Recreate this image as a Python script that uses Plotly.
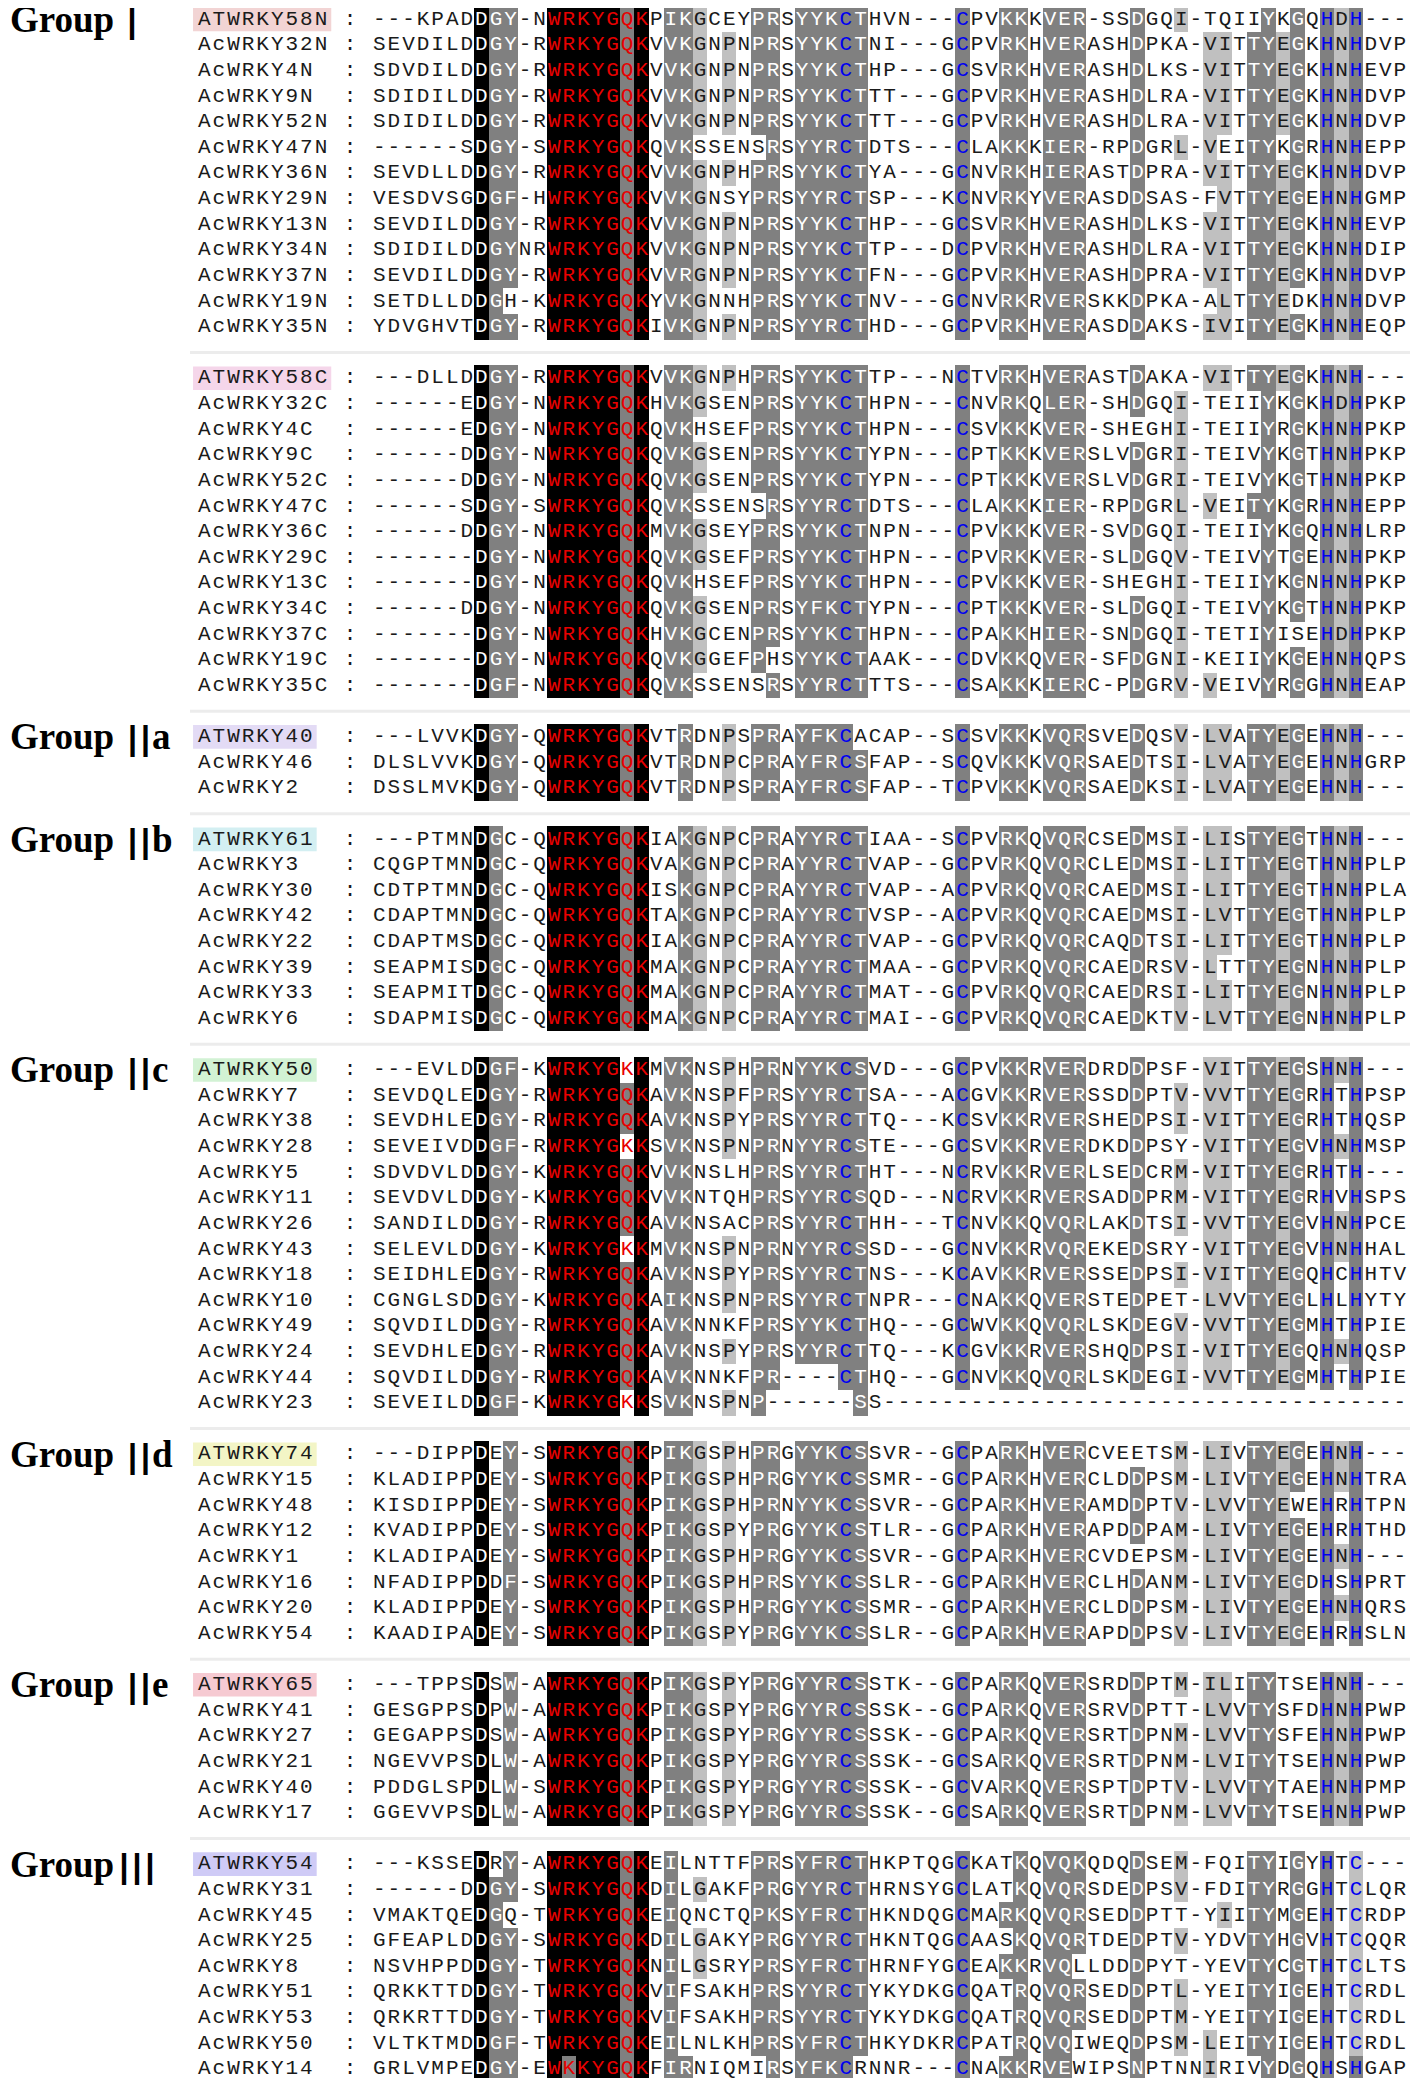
import plotly.graph_objects as go
from collections import Counter

# ---------------- data ----------------
group_I_N_names = ["ATWRKY58N", "AcWRKY32N", "AcWRKY4N", "AcWRKY9N", "AcWRKY52N", "AcWRKY47N",
                   "AcWRKY36N", "AcWRKY29N", "AcWRKY13N", "AcWRKY34N", "AcWRKY37N", "AcWRKY19N", "AcWRKY35N"]
group_I_N_seqs = [
    "---KPADDGY-NWRKYGQKPIKGCEYPRSYYKCTHVN---CPVKKKVER-SSDGQI-TQIIYKGQHDH---",
    "SEVDILDDGY-RWRKYGQKVVKGNPNPRSYYKCTNI---GCPVRKHVERASHDPKA-VITTYEGKHNHDVP",
    "SDVDILDDGY-RWRKYGQKVVKGNPNPRSYYKCTHP---GCSVRKHVERASHDLKS-VITTYEGKHNHEVP",
    "SDIDILDDGY-RWRKYGQKVVKGNPNPRSYYKCTTT---GCPVRKHVERASHDLRA-VITTYEGKHNHDVP",
    "SDIDILDDGY-RWRKYGQKVVKGNPNPRSYYKCTTT---GCPVRKHVERASHDLRA-VITTYEGKHNHDVP",
    "------SDGY-SWRKYGQKQVKSSENSRSYYRCTDTS---CLAKKKIER-RPDGRL-VEITYKGRHNHEPP",
    "SEVDLLDDGY-RWRKYGQKVVKGNPHPRSYYKCTYA---GCNVRKHIERASTDPRA-VITTYEGKHNHDVP",
    "VESDVSGDGF-HWRKYGQKVVKGNSYPRSYYRCTSP---KCNVRKYVERASDDSAS-FVTTYEGEHNHGMP",
    "SEVDILDDGY-RWRKYGQKVVKGNPNPRSYYKCTHP---GCSVRKHVERASHDLKS-VITTYEGKHNHEVP",
    "SDIDILDDGYNRWRKYGQKVVKGNPNPRSYYKCTTP---DCPVRKHVERASHDLRA-VITTYEGKHNHDIP",
    "SEVDILDDGY-RWRKYGQKVVRGNPNPRSYYKCTFN---GCPVRKHVERASHDPRA-VITTYEGKHNHDVP",
    "SETDLLDDGH-KWRKYGQKYVKGNNHPRSYYKCTNV---GCNVRKRVERSKKDPKA-ALTTYEDKHNHDVP",
    "YDVGHVTDGY-RWRKYGQKIVKGNPNPRSYYRCTHD---GCPVRKHVERASDDAKS-IVITYEGKHNHEQP",
]

group_I_C_names = ["ATWRKY58C", "AcWRKY32C", "AcWRKY4C", "AcWRKY9C", "AcWRKY52C", "AcWRKY47C",
                   "AcWRKY36C", "AcWRKY29C", "AcWRKY13C", "AcWRKY34C", "AcWRKY37C", "AcWRKY19C", "AcWRKY35C"]
group_I_C_seqs = [
    "---DLLDDGY-RWRKYGQKVVKGNPHPRSYYKCTTP---NCTVRKHVERASTDAKA-VITTYEGKHNH---",
    "------EDGY-NWRKYGQKHVKGSENPRSYYKCTHPN---CNVRKQLER-SHDGQI-TEIIYKGKHDHPKP",
    "------EDGY-NWRKYGQKQVKHSEFPRSYYKCTHPN---CSVKKKVER-SHEGHI-TEIIYRGKHNHPKP",
    "------DDGY-NWRKYGQKQVKGSENPRSYYKCTYPN---CPTKKKVERSLVDGRI-TEIVYKGTHNHPKP",
    "------DDGY-NWRKYGQKQVKGSENPRSYYKCTYPN---CPTKKKVERSLVDGRI-TEIVYKGTHNHPKP",
    "------SDGY-SWRKYGQKQVKSSENSRSYYRCTDTS---CLAKKKIER-RPDGRL-VEITYKGRHNHEPP",
    "------DDGY-NWRKYGQKMVKGSEYPRSYYKCTNPN---CPVKKKVER-SVDGQI-TEIIYKGQHNHLRP",
    "-------DGY-NWRKYGQKQVKGSEFPRSYYKCTHPN---CPVRKKVER-SLDGQV-TEIVYTGEHNHPKP",
    "-------DGY-NWRKYGQKQVKHSEFPRSYYKCTHPN---CPVKKKVER-SHEGHI-TEIIYKGNHNHPKP",
    "------DDGY-NWRKYGQKQVKGSENPRSYFKCTYPN---CPTKKKVER-SLDGQI-TEIVYKGTHNHPKP",
    "-------DGY-NWRKYGQKHVKGCENPRSYYKCTHPN---CPAKKHIER-SNDGQI-TETIYISEHDHPKP",
    "-------DGY-NWRKYGQKQVKGGEFPHSYYKCTAAK---CDVKKQVER-SFDGNI-KEIIYKGEHNHQPS",
    "-------DGF-NWRKYGQKQVKSSENSRSYYRCTTTS---CSAKKKIERC-PDGRV-VEIVYRGGHNHEAP",
]

group_IIa_names = ["ATWRKY40", "AcWRKY46", "AcWRKY2"]
group_IIa_seqs = [
    "---LVVKDGY-QWRKYGQKVTRDNPSPRAYFKCACAP--SCSVKKKVQRSVEDQSV-LVATYEGEHNH---",
    "DLSLVVKDGY-QWRKYGQKVTRDNPCPRAYFRCSFAP--SCQVKKKVQRSAEDTSI-LVATYEGEHNHGRP",
    "DSSLMVKDGY-QWRKYGQKVTRDNPSPRAYFRCSFAP--TCPVKKKVQRSAEDKSI-LVATYEGEHNH---",
]

group_IIb_names = ["ATWRKY61", "AcWRKY3", "AcWRKY30", "AcWRKY42", "AcWRKY22", "AcWRKY39", "AcWRKY33", "AcWRKY6"]
group_IIb_seqs = [
    "---PTMNDGC-QWRKYGQKIAKGNPCPRAYYRCTIAA--SCPVRKQVQRCSEDMSI-LISTYEGTHNH---",
    "CQGPTMNDGC-QWRKYGQKVAKGNPCPRAYYRCTVAP--GCPVRKQVQRCLEDMSI-LITTYEGTHNHPLP",
    "CDTPTMNDGC-QWRKYGQKISKGNPCPRAYYRCTVAP--ACPVRKQVQRCAEDMSI-LITTYEGTHNHPLA",
    "CDAPTMNDGC-QWRKYGQKTAKGNPCPRAYYRCTVSP--ACPVRKQVQRCAEDMSI-LVTTYEGTHNHPLP",
    "CDAPTMSDGC-QWRKYGQKIAKGNPCPRAYYRCTVAP--GCPVRKQVQRCAQDTSI-LITTYEGTHNHPLP",
    "SEAPMISDGC-QWRKYGQKMAKGNPCPRAYYRCTMAA--GCPVRKQVQRCAEDRSV-LTTTYEGNHNHPLP",
    "SEAPMITDGC-QWRKYGQKMAKGNPCPRAYYRCTMAT--GCPVRKQVQRCAEDRSI-LITTYEGNHNHPLP",
    "SDAPMISDGC-QWRKYGQKMAKGNPCPRAYYRCTMAI--GCPVRKQVQRCAEDKTV-LVTTYEGNHNHPLP",
]

group_IIc_names = ["ATWRKY50", "AcWRKY7", "AcWRKY38", "AcWRKY28", "AcWRKY5", "AcWRKY11", "AcWRKY26",
                   "AcWRKY43", "AcWRKY18", "AcWRKY10", "AcWRKY49", "AcWRKY24", "AcWRKY44", "AcWRKY23"]
group_IIc_seqs = [
    "---EVLDDGF-KWRKYGKKMVKNSPHPRNYYKCSVD---GCPVKKRVERDRDDPSF-VITTYEGSHNH---",
    "SEVDQLEDGY-RWRKYGQKAVKNSPFPRSYYRCTSA---ACGVKKRVERSSDDPTV-VVTTYEGRHTHPSP",
    "SEVDHLEDGY-RWRKYGQKAVKNSPYPRSYYRCTTQ---KCSVKKRVERSHEDPSI-VITTYEGRHTHQSP",
    "SEVEIVDDGF-RWRKYGKKSVKNSPNPRNYYRCSTE---GCSVKKRVERDKDDPSY-VITTYEGVHNHMSP",
    "SDVDVLDDGY-KWRKYGQKVVKNSLHPRSYYRCTHT---NCRVKKRVERLSEDCRM-VITTYEGRHTH---",
    "SEVDVLDDGY-KWRKYGQKVVKNTQHPRSYYRCSQD---NCRVKKRVERSADDPRM-VITTYEGRHVHSPS",
    "SANDILDDGY-RWRKYGQKAVKNSACPRSYYRCTHH---TCNVKKQVQRLAKDTSI-VVTTYEGVHNHPCE",
    "SELEVLDDGY-KWRKYGKKMVKNSPNPRNYYRCSSD---GCNVKKRVQREKEDSRY-VITTYEGVHNHHAL",
    "SEIDHLEDGY-RWRKYGQKAVKNSPYPRSYYRCTNS---KCAVKKRVERSSEDPSI-VITTYEGQHCHHTV",
    "CGNGLSDDGY-KWRKYGQKAIKNSPNPRSYYRCTNPR---CNAKKQVERSTEDPET-LVVTYEGLHLHYTY",
    "SQVDILDDGY-RWRKYGQKAVKNNKFPRSYYKCTHQ---GCWVKKQVQRLSKDEGV-VVTTYEGMHTHPIE",
    "SEVDHLEDGY-RWRKYGQKAVKNSPYPRSYYRCTTQ---KCGVKKRVERSHQDPSI-VITTYEGQHNHQSP",
    "SQVDILDDGY-RWRKYGQKAVKNNKFPR----CTHQ---GCNVKKQVQRLSKDEGI-VVTTYEGMHTHPIE",
    "SEVEILDDGF-KWRKYGKKSVKNSPNP------SS------------------------------------",
]

group_IId_names = ["ATWRKY74", "AcWRKY15", "AcWRKY48", "AcWRKY12", "AcWRKY1", "AcWRKY16", "AcWRKY20", "AcWRKY54"]
group_IId_seqs = [
    "---DIPPDEY-SWRKYGQKPIKGSPHPRGYYKCSSVR--GCPARKHVERCVEETSM-LIVTYEGEHNH---",
    "KLADIPPDEY-SWRKYGQKPIKGSPHPRGYYKCSSMR--GCPARKHVERCLDDPSM-LIVTYEGEHNHTRA",
    "KISDIPPDEY-SWRKYGQKPIKGSPHPRNYYKCSSVR--GCPARKHVERAMDDPTV-LVVTYEWEHRHTPN",
    "KVADIPPDEY-SWRKYGQKPIKGSPYPRGYYKCSTLR--GCPARKHVERAPDDPAM-LIVTYEGEHRHTHD",
    "KLADIPADEY-SWRKYGQKPIKGSPHPRGYYKCSSVR--GCPARKHVERCVDEPSM-LIVTYEGEHNH---",
    "NFADIPPDDF-SWRKYGQKPIKGSPHPRSYYKCSSLR--GCPARKHVERCLHDANM-LIVTYEGDHSHPRT",
    "KLADIPPDEY-SWRKYGQKPIKGSPHPRGYYKCSSMR--GCPARKHVERCLDDPSM-LIVTYEGEHNHQRS",
    "KAADIPADEY-SWRKYGQKPIKGSPYPRGYYKCSSLR--GCPARKHVERAPDDPSV-LIVTYEGEHRHSLN",
]

group_IIe_names = ["ATWRKY65", "AcWRKY41", "AcWRKY27", "AcWRKY21", "AcWRKY40", "AcWRKY17"]
group_IIe_seqs = [
    "---TPPSDSW-AWRKYGQKPIKGSPYPRGYYRCSSTK--GCPARKQVERSRDDPTM-ILITYTSEHNH---",
    "GESGPPSDPW-AWRKYGQKPIKGSPYPRGYYRCSSSK--GCPARKQVERSRVDPTT-LVVTYSFDHNHPWP",
    "GEGAPPSDSW-AWRKYGQKPIKGSPYPRGYYRCSSSK--GCPARKQVERSRTDPNM-LVVTYSFEHNHPWP",
    "NGEVVPSDLW-AWRKYGQKPIKGSPYPRGYYRCSSSK--GCSARKQVERSRTDPNM-LVITYTSEHNHPWP",
    "PDDGLSPDLW-SWRKYGQKPIKGSPYPRGYYRCSSSK--GCVARKQVERSPTDPTV-LVVTYTAEHNHPMP",
    "GGEVVPSDLW-AWRKYGQKPIKGSPYPRGYYRCSSSK--GCSARKQVERSRTDPNM-LVVTYTSEHNHPWP",
]

group_III_names = ["ATWRKY54", "AcWRKY31", "AcWRKY45", "AcWRKY25", "AcWRKY8", "AcWRKY51", "AcWRKY53", "AcWRKY50", "AcWRKY14"]
group_III_seqs = [
    "---KSSEDRY-AWRKYGQKEILNTTFPRSYFRCTHKPTQGCKATKQVQKQDQDSEM-FQITYIGYHTC---",
    "------DDGY-SWRKYGQKDILGAKFPRGYYRCTHRNSYGCLATKQVQRSDEDPSV-FDITYRGGHTCLQR",
    "VMAKTQEDGQ-TWRKYGQKEIQNCTQPKSYFRCTHKNDQGCMARKQVQRSEDDPTT-YIITYMGEHTCRDP",
    "GFEAPLDDGY-SWRKYGQKDILGAKYPRGYYRCTHKNTQGCAASKQVQRTDEDPTV-YDVTYHGVHTCQQR",
    "NSVHPPDDGY-TWRKYGQKNILGSRYPRSYFRCTHRNFYGCEAKKRVQLLDDDPYT-YEVTYCGTHTCLTS",
    "QRKKTTDDGY-TWRKYGQKVIFSAKHPRSYYRCTYKYDKGCQATRQVQRSEDDPTL-YEITYIGEHTCRDL",
    "QRKRTTDDGY-TWRKYGQKVIFSAKHPRSYYRCTYKYDKGCQATRQVQRSEDDPTM-YEITYIGEHTCRDL",
    "VLTKTMDDGF-TWRKYGQKEILNLKHPRSYFRCTHKYDKRCPATRQVQIWEQDPSM-LEITYIGEHTCRDL",
    "GRLVMPEDGY-EWKKYGQKFIRNIQMIRSYFKCRNNR---CNAKKRVEWIPSNPTNNIRIVYDGQHSHGAP",
]

# group label: (roman numeral, suffix)
group_labels = [("Ⅰ", ""), None, ("Ⅱ", "a"), ("Ⅱ", "b"), ("Ⅱ", "c"), ("Ⅱ", "d"), ("Ⅱ", "e"), ("Ⅲ", "")]
group_names = [group_I_N_names, group_I_C_names, group_IIa_names, group_IIb_names,
               group_IIc_names, group_IId_names, group_IIe_names, group_III_names]
group_seqs = [group_I_N_seqs, group_I_C_seqs, group_IIa_seqs, group_IIb_seqs,
              group_IIc_seqs, group_IId_seqs, group_IIe_seqs, group_III_seqs]

# highlighted Arabidopsis reference names
name_highlight = {
    "ATWRKY58N": "#f2d4d4", "ATWRKY58C": "#f5d6ea", "ATWRKY40": "#e3dbf5", "ATWRKY61": "#d3eff2",
    "ATWRKY50": "#d2f2d4", "ATWRKY74": "#f3f5c6", "ATWRKY65": "#f6cad2", "ATWRKY54": "#cfcbf6",
}

# similarity groups used for conservation shading
similarity_groups = ["DN", "EQ", "ST", "KR", "FYW", "LIVM"]
motif_cols = range(12, 19)          # WRKYGQK (red letters)
zinc_cols = [32, 40, 65, 67]        # C / H zinc-finger positions (blue letters)
extra_shade = [(n, 67, 1) for n in group_III_names]   # light grey on the group III C

# ---------------- layout constants ----------------
X0, CW = 372.0, 14.58     # page x of the left edge of alignment column 0, column width
Y0, RH = 19.5, 25.62      # page y of row 0 centre, row pitch
OFF = 8                   # body margin of the html page
FIG_W, FIG_H = 1418 - 2 * OFF, 2086 - 2 * OFF
NUMERAL_CENTER = {"Ⅰ": 132, "Ⅱ": 139, "Ⅲ": 137}   # page x of the roman numeral centre


def px2x(px):
    return (px - X0) / CW - 0.5


def py2y(py):
    return (py - Y0) / RH


# ---------------- rows ----------------
rows = []
for gi, (names, seqs) in enumerate(zip(group_names, group_seqs)):
    if gi > 0:
        rows.append(None)
    for k, (n, s) in enumerate(zip(names, seqs)):
        rows.append((n, s, group_labels[gi] if k == 0 else None))

L = len(group_I_N_seqs[0])
seq_rows = [(r, row) for r, row in enumerate(rows) if row is not None]
blank_rows = [r for r, row in enumerate(rows) if row is None]
all_seqs = [row[1] for _, row in seq_rows]
N = len(all_seqs)


def cls(a):
    for g in similarity_groups:
        if a in g:
            return g
    return a


t_dark = int(0.8 * N)
t_light = int(0.6 * N)
level = {}
for j in range(L):
    col = [s[j] for s in all_seqs]
    cnt = Counter(cls(a) for a in col if a != "-")
    best, bc = cnt.most_common(1)[0]
    if bc == N:
        lev = 3
    elif bc >= t_dark:
        lev = 2
    elif bc >= t_light:
        lev = 1
    else:
        lev = 0
    if lev == 0:
        continue
    top = Counter(a for a in col if a != "-" and cls(a) == best).most_common(1)[0][0]
    for i, a in enumerate(col):
        if a != "-" and cls(a) == best:
            level[(i, j)] = 2 if (lev == 3 and a != top) else lev

name_to_i = {row[0]: i for i, (_, row) in enumerate(seq_rows)}
for n, j, lv in extra_shade:
    i = name_to_i[n]
    if all_seqs[i][j] != "-":
        level[(i, j)] = max(level.get((i, j), 0), lv)

# heatmap matrix
z = [[None] * L for _ in rows]
for i, (r, row) in enumerate(seq_rows):
    for j in range(L):
        lv = level.get((i, j), 0)
        z[r][j] = lv if lv > 0 else None

fig = go.Figure()
fig.add_trace(go.Heatmap(
    z=z, x=list(range(L)), y=list(range(len(rows))),
    zmin=0, zmax=3, showscale=False, hoverinfo="skip", zsmooth=False,
    colorscale=[[0, "#ffffff"], [0.17, "#ffffff"], [0.17, "#c0c0c0"], [0.5, "#c0c0c0"],
                [0.5, "#808080"], [0.83, "#808080"], [0.83, "#000000"], [1, "#000000"]],
))

# letters
tx, ty, tt, tc = [], [], [], []
RED, BLUE, INK = "#e80000", "#0000f0", "#1a1a1a"
for i, (r, row) in enumerate(seq_rows):
    name, seq, _ = row
    for k, ch in enumerate(name):
        tx.append(-12 + k); ty.append(r); tt.append(ch); tc.append(INK)
    tx.append(-2); ty.append(r); tt.append(":"); tc.append(INK)
    for j, ch in enumerate(seq):
        lv = level.get((i, j), 0)
        if ch == "-":
            col = INK
        elif j in motif_cols:
            col = RED
        elif j in zinc_cols:
            col = BLUE
        elif lv >= 2:
            col = "#ffffff"
        else:
            col = INK
        tx.append(j); ty.append(r); tt.append(ch); tc.append(col)

fig.add_trace(go.Scatter(
    x=tx, y=ty, text=tt, mode="text", textposition="middle center",
    textfont=dict(family="Liberation Mono, DejaVu Sans Mono, monospace", size=21, color=tc),
    hoverinfo="skip", showlegend=False, cliponaxis=False,
))

# faint separators in the blank rows between groups
for r in blank_rows:
    fig.add_shape(type="line", layer="below", line=dict(color="#ececec", width=3),
                  x0=px2x(190), x1=px2x(1418), y0=r, y1=r)

# highlight boxes behind reference names
for r, row in seq_rows:
    name = row[0]
    if name in name_highlight:
        fig.add_shape(type="rect", layer="below", line=dict(width=0), fillcolor=name_highlight[name],
                      x0=-12.5 - 4 / CW, x1=-12.5 + len(name) + 3 / CW, y0=r - 0.46, y1=r + 0.46)

# group labels
for r, row in seq_rows:
    lab = row[2]
    if not lab:
        continue
    num, suf = lab
    fig.add_annotation(x=px2x(OFF), y=r, text="<b>Group</b>", showarrow=False, xanchor="left",
                       yanchor="middle", font=dict(family="Liberation Serif, serif", size=37, color="#000"))
    fig.add_annotation(x=px2x(NUMERAL_CENTER[num]), y=r + 0.06, text=num, showarrow=False,
                       xanchor="center", yanchor="middle",
                       font=dict(family="Noto Sans CJK SC, DejaVu Sans", size=44, color="#000"))
    if suf:
        fig.add_annotation(x=px2x(150), y=r, text="<b>" + suf + "</b>", showarrow=False, xanchor="left",
                           yanchor="middle", font=dict(family="Liberation Serif, serif", size=37, color="#000"))

fig.update_layout(
    width=FIG_W, height=FIG_H, autosize=False,
    margin=dict(l=0, r=0, t=0, b=0, pad=0),
    paper_bgcolor="#ffffff", plot_bgcolor="#ffffff", showlegend=False,
    xaxis=dict(range=[px2x(OFF), px2x(OFF + FIG_W)], visible=False, fixedrange=True),
    yaxis=dict(range=[py2y(OFF + FIG_H), py2y(OFF)], visible=False, fixedrange=True),
)

fig.write_html("out.html")
